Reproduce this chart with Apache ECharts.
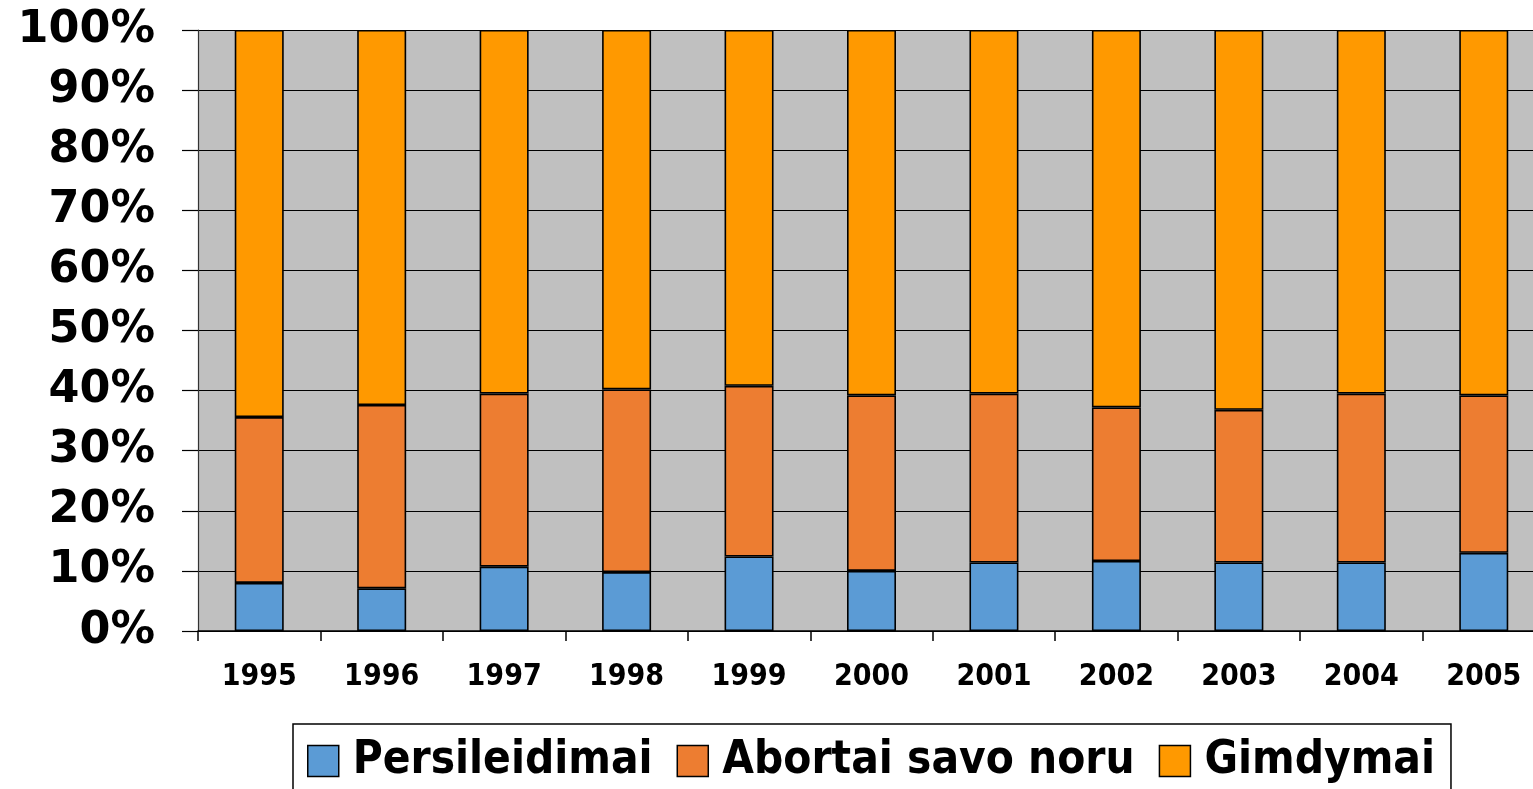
<!DOCTYPE html>
<html>
<head>
<meta charset="utf-8">
<script src="https://cdn.jsdelivr.net/npm/echarts@6/dist/echarts.min.js"></script>
<style>
html,body{margin:0;padding:0;background:#fff;overflow:hidden;}
#chart{width:1547px;height:789px;}
</style>
</head>
<body>
<div id="chart"></div>
<script>
const categories = ['1995','1996','1997','1998','1999','2000','2001','2002','2003','2004','2005'];
const persileidimai = [8.0, 7.1, 10.7, 9.8, 12.4, 10.0, 11.4, 11.65, 11.4, 11.4, 13.0];
const abortai = [27.6, 30.5, 28.8, 30.4, 28.4, 29.2, 28.1, 25.55, 25.4, 28.1, 26.2];
const gimdymai = [64.4, 62.4, 60.5, 59.8, 59.2, 60.8, 60.5, 62.8, 63.2, 60.5, 60.8];
const seriesNames = ['Persileidimai', 'Abortai savo noru', 'Gimdymai'];
const colors = ['#5B9BD5', '#ED7D31', '#FF9900'];

const chart = echarts.init(document.getElementById('chart'), null, {renderer: 'canvas'});
const condensed = "'DejaVu Sans Condensed', 'Liberation Sans Narrow', 'DejaVu Sans', sans-serif";
function bar(name, data, color) {
  return {
    name: name, type: 'bar', stack: 'total', data: data, barWidth: 49,
    itemStyle: {color: color, borderColor: '#000', borderWidth: 1.6},
    emphasis: {disabled: true}
  };
}
chart.setOption({
  animation: false,
  backgroundColor: '#fff',
  color: colors,
  grid: {left: 198, top: 30, bottom: 158, right: 2, show: true, backgroundColor: '#C0C0C0', borderWidth: 0, containLabel: false},
  xAxis: {
    type: 'category', data: categories, boundaryGap: true,
    axisLine: {show: true, lineStyle: {color: '#000', width: 1.5}},
    axisTick: {show: true, length: 10, lineStyle: {color: '#000', width: 1.5}},
    axisLabel: {margin: 31, color: '#000', fontFamily: condensed, fontWeight: 'bold', fontSize: 30},
    splitLine: {show: false}
  },
  yAxis: {
    type: 'value', min: 0, max: 100, interval: 10,
    axisLine: {show: true, lineStyle: {color: '#333', width: 1.2}},
    axisTick: {show: true, length: 16, lineStyle: {color: '#000', width: 1.2}},
    axisLabel: {margin: 43, formatter: '{value}%', color: '#000', fontFamily: "'DejaVu Sans', sans-serif", fontWeight: 'bold', fontSize: 44.5},
    splitLine: {show: true, lineStyle: {color: '#000', width: 1.2}}
  },
  legend: {
    data: seriesNames, left: 293, top: 724, orient: 'horizontal',
    itemWidth: 31, itemHeight: 31, itemGap: 24,
    icon: 'rect',
    itemStyle: {borderColor: '#000', borderWidth: 1.5},
    padding: [12, 16, 30, 14],
    borderColor: '#000', borderWidth: 1.5, backgroundColor: '#fff',
    textStyle: {color: '#000', fontFamily: condensed, fontWeight: 'bold', fontSize: 45.5, lineHeight: 50, padding: [0, 0, 0, 9]},
    selectedMode: false
  },
  series: [
    bar(seriesNames[0], persileidimai, colors[0]),
    bar(seriesNames[1], abortai, colors[1]),
    bar(seriesNames[2], gimdymai, colors[2])
  ]
});
</script>
</body>
</html>
